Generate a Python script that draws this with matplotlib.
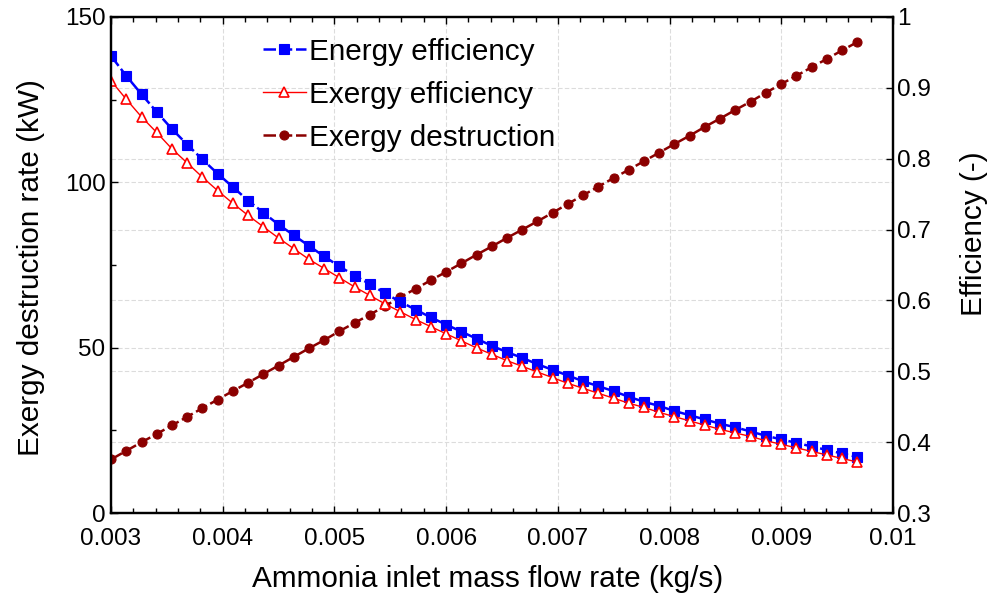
import matplotlib
matplotlib.use("Agg")
import matplotlib.pyplot as plt
from matplotlib.ticker import FixedLocator, MultipleLocator, FixedFormatter

plt.rcParams["font.family"] = ["Liberation Sans", "DejaVu Sans"]

# Ammonia inlet mass flow rate (kg/s)
mass_flow = [
    0.003000, 0.003136, 0.003273, 0.003409, 0.003545, 0.003682, 0.003818, 0.003954,
    0.004091, 0.004227, 0.004363, 0.004500, 0.004636, 0.004772, 0.004909, 0.005045,
    0.005181, 0.005318, 0.005454, 0.005590, 0.005727, 0.005863, 0.005999, 0.006136,
    0.006272, 0.006408, 0.006545, 0.006681, 0.006817, 0.006953, 0.007090, 0.007226,
    0.007362, 0.007499, 0.007635, 0.007771, 0.007908, 0.008044, 0.008180, 0.008317,
    0.008453, 0.008589, 0.008726, 0.008862, 0.008998, 0.009135, 0.009271, 0.009407,
    0.009544, 0.009680,
]

energy_eff = [
    0.945, 0.917, 0.891, 0.866, 0.842, 0.820, 0.799, 0.779, 0.760, 0.741,
    0.724, 0.707, 0.692, 0.677, 0.662, 0.648, 0.635, 0.623, 0.610, 0.598,
    0.587, 0.576, 0.566, 0.556, 0.546, 0.536, 0.527, 0.519, 0.510, 0.502,
    0.494, 0.486, 0.479, 0.472, 0.464, 0.457, 0.451, 0.444, 0.438, 0.432,
    0.426, 0.421, 0.415, 0.409, 0.404, 0.399, 0.394, 0.389, 0.384, 0.379,
]

exergy_eff = [
    0.910, 0.884, 0.859, 0.837, 0.814, 0.794, 0.774, 0.755, 0.737, 0.720,
    0.704, 0.688, 0.673, 0.658, 0.645, 0.632, 0.619, 0.607, 0.595, 0.584,
    0.573, 0.563, 0.553, 0.543, 0.533, 0.524, 0.515, 0.507, 0.499, 0.491,
    0.483, 0.476, 0.469, 0.462, 0.455, 0.449, 0.442, 0.436, 0.430, 0.424,
    0.418, 0.413, 0.408, 0.402, 0.397, 0.392, 0.387, 0.382, 0.377, 0.372,
]

exergy_destruction = [
    16.2, 18.8, 21.4, 23.9, 26.5, 29.1, 31.7, 34.3, 36.9, 39.4,
    42.0, 44.6, 47.2, 49.8, 52.3, 55.0, 57.5, 60.0, 62.6, 65.3,
    67.8, 70.4, 72.9, 75.5, 78.1, 80.6, 83.2, 85.7, 88.2, 90.8,
    93.5, 96.1, 98.7, 101.3, 103.8, 106.4, 109.0, 111.6, 114.1, 116.8,
    119.3, 121.9, 124.4, 127.1, 129.7, 132.2, 134.8, 137.3, 139.9, 142.4,
]

x_ticks = [0.003, 0.004, 0.005, 0.006, 0.007, 0.008, 0.009, 0.010]
x_tick_labels = ["0.003", "0.004", "0.005", "0.006", "0.007", "0.008", "0.009", "0.01"]
left_ticks = [0, 50, 100, 150]
right_ticks = [0.3, 0.4, 0.5, 0.6, 0.7, 0.8, 0.9, 1.0]
right_tick_labels = ["0.3", "0.4", "0.5", "0.6", "0.7", "0.8", "0.9", "1"]

LEFT_LIM = (0, 150)
RIGHT_LIM = (0.3, 1.0)

fig = plt.figure(figsize=(9.92, 6.02), dpi=100)
ax1 = fig.add_axes([0.1119, 0.1478, 0.7883, 0.8240])
ax2 = ax1.twinx()

grid_kw = dict(color="#dcdcdc", linestyle=(0, (4, 2)), linewidth=0.8, zorder=0)

# vertical grid and left-axis grid
for xv in x_ticks[1:-1]:
    ax1.axvline(xv, **grid_kw)
for yv in left_ticks[1:-1]:
    ax1.axhline(yv, **grid_kw)
# right-axis grid, drawn on the left axes so it stays behind every curve
for rv in right_ticks[1:-1]:
    ax1.axhline(LEFT_LIM[0] + (rv - RIGHT_LIM[0]) / (RIGHT_LIM[1] - RIGHT_LIM[0]) * (LEFT_LIM[1] - LEFT_LIM[0]), **grid_kw)

h3, = ax1.plot(mass_flow, exergy_destruction, color="#8b0000", linestyle=(0, (5, 1.5)),
               linewidth=1.8, marker="o", markersize=6.5, markeredgewidth=0.8,
               markerfacecolor="#8b0000", markeredgecolor="#8b0000", label="Exergy destruction")
h1, = ax2.plot(mass_flow, energy_eff, color="#0000ff", linestyle=(0, (5, 1.5)),
               linewidth=1.8, marker="s", markersize=7, markeredgewidth=0.8,
               markerfacecolor="#0000ff", markeredgecolor="#0000ff", label="Energy efficiency")
h2, = ax2.plot(mass_flow, exergy_eff, color="#ff0000", linestyle="-",
               linewidth=1.0, marker="^", markersize=7.5, markeredgewidth=1.2,
               markerfacecolor="white", markeredgecolor="#ff0000", label="Exergy efficiency")

ax1.set_xlim(0.003, 0.010)
ax1.set_ylim(*LEFT_LIM)
ax2.set_ylim(*RIGHT_LIM)

ax1.xaxis.set_major_locator(FixedLocator(x_ticks))
ax1.xaxis.set_major_formatter(FixedFormatter(x_tick_labels))
ax1.xaxis.set_minor_locator(MultipleLocator(0.0002))
ax1.yaxis.set_major_locator(FixedLocator(left_ticks))
ax1.yaxis.set_minor_locator(MultipleLocator(25))
ax2.yaxis.set_major_locator(FixedLocator(right_ticks))
ax2.yaxis.set_major_formatter(FixedFormatter(right_tick_labels))

ax1.tick_params(axis="x", which="both", direction="in", top=True, bottom=True, labelsize=17.5, pad=11)
ax1.tick_params(axis="y", which="both", direction="in", left=True, right=False, labelsize=17.5, pad=4)
ax2.tick_params(axis="y", which="both", direction="in", right=True, labelsize=17.5, pad=3)
for a in (ax1, ax2):
    a.tick_params(which="major", length=5, width=1)
    a.tick_params(which="minor", length=3.5, width=1)
    for s in a.spines.values():
        s.set_linewidth(1.6)

ax1.set_xlabel("Ammonia inlet mass flow rate (kg/s)", fontsize=21.4)
ax1.xaxis.set_label_coords(0.482, -0.105)
ax1.set_ylabel("Exergy destruction rate (kW)", fontsize=21.4)
ax1.yaxis.set_label_coords(-0.085, 0.494)
ax2.set_ylabel("Efficiency (-)", fontsize=21.4)
ax2.yaxis.set_label_coords(1.086, 0.563)

ax2.legend(handles=[h1, h2, h3], loc="upper left", bbox_to_anchor=(0.194, 0.958),
           frameon=False, fontsize=21.4, handlelength=1.45, handletextpad=0.1,
           labelspacing=0.5, borderpad=0, borderaxespad=0)

fig.savefig("out.png", dpi=100)
